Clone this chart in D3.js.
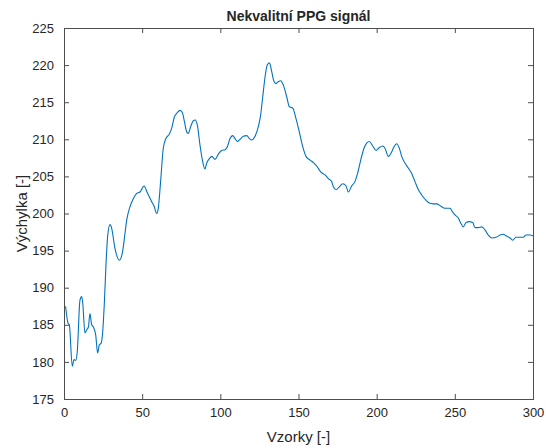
<!DOCTYPE html>
<html>
<head>
<meta charset="utf-8">
<script src="https://cdn.jsdelivr.net/npm/d3@7"></script>
<style>
  body { margin: 0; background: #fff; }
  text { font-family: "Liberation Sans", Arial, sans-serif; fill: #262626; }
</style>
</head>
<body>
<svg id="chart"></svg>
<script>
// samples (x = sample index, y = amplitude)
const samples = [1, 2.6, 3.4, 5.3, 6.4, 7.5, 8.5, 10.2, 11.3, 12, 13.4, 14.5, 15.6, 16.6, 17.7, 18.8, 20.3, 21.5, 22.6, 23.7, 24.7, 25.8, 26.9, 27.9, 29.4, 30.5, 32.6, 35.4, 37.5, 39, 40.1, 42.2, 44.3, 46.5, 48.6, 51.2, 53.3, 56.1, 57.6, 59.3, 60.3, 61.8, 63.5, 65.2, 67.4, 68.9, 70.6, 72.5, 74.2, 75.7, 77, 78.5, 79.5, 81, 82.7, 84, 85.3, 87, 88.7, 90.2, 91.3, 93, 94.5, 96.6, 98.7, 100.9, 103, 104.5, 106.2, 107.9, 109.4, 110.9, 112.6, 114.7, 116.9, 118.6, 120.1, 122.2, 124.3, 125.8, 127.1, 128.6, 130, 131.4, 132.9, 134, 135.5, 137.2, 138.6, 140.3, 142.5, 144.1, 146.3, 148.4, 150.5, 152.7, 154.8, 157.4, 159.9, 162, 164.2, 167, 169.1, 171.2, 172.3, 174, 176.1, 178.3, 180.4, 181.9, 184, 186.1, 187.8, 189.8, 191.9, 193.6, 195.3, 197.5, 199.6, 201.7, 203.9, 205.3, 207.5, 209.6, 211.1, 212.8, 214.5, 216, 218.1, 220.3, 222.4, 224.5, 226.7, 228.8, 231.5, 233.7, 236, 238.4, 240.9, 243.7, 246.9, 248.6, 250.1, 252.2, 253.8, 255.4, 257.2, 259.3, 261.4, 262.9, 265, 267.2, 269.3, 271.4, 273.6, 276.4, 278.9, 281, 282.7, 285.3, 287, 289.1, 291.7, 293.8, 295.5, 298.1, 300]
const amplitude = [187.5, 185.2, 185.0, 179.4, 180.3, 180.2, 181.4, 188.3, 188.8, 187.9, 183.9, 184.3, 184.7, 186.5, 185.0, 184.7, 183.6, 181.2, 182.3, 182.5, 183.9, 187.9, 193.3, 196.9, 198.5, 198.0, 195.3, 193.7, 194.9, 197.3, 199.1, 200.9, 202.0, 202.7, 202.9, 203.7, 202.8, 201.6, 201.0, 200.0, 200.7, 204.3, 208.8, 210.1, 210.7, 211.5, 213.0, 213.6, 213.9, 213.6, 212.4, 211.0, 210.8, 211.7, 212.5, 212.6, 211.9, 209.2, 207.0, 206.0, 206.8, 207.4, 207.7, 207.3, 208.0, 208.5, 208.6, 209.0, 210.1, 210.5, 210.1, 209.7, 210.0, 210.4, 210.5, 210.1, 209.9, 210.4, 211.7, 213.3, 215.7, 218.4, 220.0, 220.3, 219.1, 218.0, 217.5, 217.8, 217.9, 217.3, 215.7, 214.4, 214.2, 212.8, 211.0, 209.0, 207.7, 207.2, 206.8, 206.3, 205.6, 205.2, 204.7, 204.3, 203.6, 203.2, 203.6, 204.0, 203.7, 202.9, 203.7, 204.3, 205.4, 207.2, 208.8, 209.5, 209.7, 209.1, 208.5, 208.9, 209.1, 208.8, 207.7, 208.3, 209.0, 209.4, 208.8, 207.7, 206.8, 206.1, 205.4, 204.3, 203.2, 202.5, 201.8, 201.4, 201.3, 201.3, 201.0, 200.7, 200.7, 200.2, 199.8, 199.4, 198.7, 198.2, 198.8, 198.9, 198.8, 198.1, 198.1, 198.2, 197.8, 197.1, 196.7, 196.8, 197.1, 197.2, 197.0, 196.7, 196.4, 196.8, 196.8, 196.8, 197.1, 197.1, 197.0]

const xTicks = [0, 50, 100, 150, 200, 250, 300]
const yTicks = [175, 180, 185, 190, 195, 200, 205, 210, 215, 220, 225]

const titleText = "Nekvalitní PPG signál"
const xLabel = "Vzorky [-]"
const yLabel = "Výchylka [-]"

const W = 546, H = 448
var margin = {top: 28, right: 13, bottom: 49, left: 64},
  width = W - margin.left - margin.right,
  height = H - margin.top - margin.bottom;

const svg = d3.select("#chart")
  .attr("width", W)
  .attr("height", H)

const g = svg.append("g")
  .attr("transform", "translate(" + margin.left + "," + margin.top + ")")

var x = d3.scaleLinear().domain([0, 300]).range([0, width])
var y = d3.scaleLinear().domain([175, 225]).range([height, 0])

const axisColor = "#4d4d4d"

// axes, ticks pointing inward like matlab
const styleAxis = function(sel) {
  sel.select(".domain").remove()
  sel.selectAll(".tick line").attr("stroke", axisColor)
  sel.selectAll(".tick text").attr("font-size", "13px").attr("fill", "#262626")
}

g.append("g")
  .attr("transform", "translate(0," + height + ")")
  .call(d3.axisBottom(x).tickValues(xTicks).tickSize(-5).tickPadding(9))
  .call(styleAxis)

g.append("g")
  .call(d3.axisTop(x).tickValues(xTicks).tickSize(-5).tickFormat(""))
  .call(styleAxis)

g.append("g")
  .call(d3.axisLeft(y).tickValues(yTicks).tickSize(-5).tickPadding(10))
  .call(styleAxis)

g.append("g")
  .attr("transform", "translate(" + width + ",0)")
  .call(d3.axisRight(y).tickValues(yTicks).tickSize(-5).tickFormat(""))
  .call(styleAxis)

// box
g.append("rect")
  .attr("x", 0.5).attr("y", 0.5)
  .attr("width", width).attr("height", height)
  .attr("fill", "none")
  .attr("stroke", axisColor)
  .attr("stroke-width", 1)

// signal
const line = d3.line()
  .x((d, i) => x(samples[i]))
  .y(d => y(d))
  .curve(d3.curveMonotoneX)

g.append("path")
  .datum(amplitude)
  .attr("d", line)
  .attr("fill", "none")
  .attr("stroke", "#0072BD")
  .attr("stroke-width", 1.1)

// title and labels
svg.append("text")
  .text(titleText)
  .attr("x", margin.left + width / 2)
  .attr("y", 21)
  .attr("text-anchor", "middle")
  .attr("font-size", "14px")
  .attr("font-weight", "bold")
  .attr("fill", "#000")

svg.append("text")
  .text(xLabel)
  .attr("x", margin.left + width / 2)
  .attr("y", 442)
  .attr("text-anchor", "middle")
  .attr("font-size", "15px")

svg.append("text")
  .text(yLabel)
  .attr("transform", "translate(27," + (margin.top + height / 2) + ") rotate(-90)")
  .attr("text-anchor", "middle")
  .attr("font-size", "15px")
</script>
</body>
</html>
